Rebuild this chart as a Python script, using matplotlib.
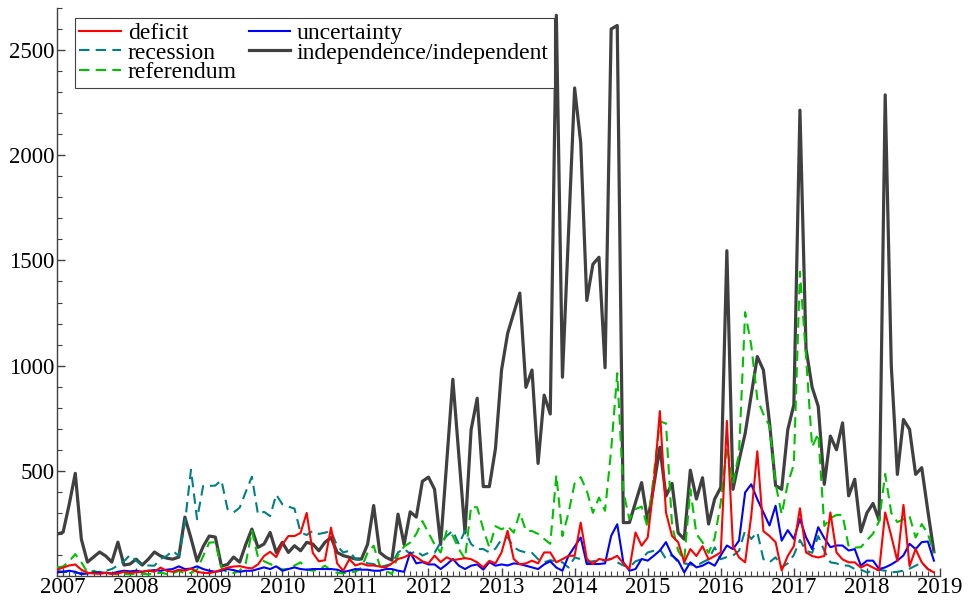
import numpy as np
import matplotlib.pyplot as plt
from matplotlib.ticker import MultipleLocator

# monthly series, first point Dec 2006, last Dec 2018
deficit = [30,
    40, 50, 55, 30, 15, 12, 10, 15, 10, 12, 20, 15,
    18, 20, 25, 20, 40, 25, 20, 30, 25, 35, 20, 15,
    14, 20, 30, 40, 45, 47, 40, 36, 55, 95, 115, 90,
    150, 190, 190, 205, 300, 110, 70, 75, 230, 60, 25, 80,
    50, 60, 50, 50, 45, 41, 60, 81, 89, 104, 90, 70,
    60, 97, 66, 89, 75, 80, 85, 80, 65, 41, 72, 60,
    112, 215, 81, 55, 60, 73, 60, 112, 112, 65, 80, 96,
    96, 254, 81, 57, 81, 75, 81, 96, 60, 33, 207, 144,
    183, 430, 784, 302, 190, 161, 65, 128, 95, 142, 79, 95,
    112, 737, 142, 88, 65, 285, 593, 213, 190, 161, 26, 95,
    142, 322, 112, 95, 88, 95, 302, 112, 79, 65, 65, 40,
    55, 40, 26, 302, 190, 71, 338, 47, 128, 65, 33, 17]

uncertainty = [17,
    20, 25, 20, 9, 12, 17, 17, 15, 12, 20, 25, 22,
    25, 20, 25, 28, 25, 30, 33, 46, 33, 35, 46, 33,
    25, 20, 25, 33, 28, 20, 25, 25, 33, 41, 33, 46,
    25, 33, 41, 33, 30, 33, 33, 33, 33, 30, 20, 25,
    33, 30, 30, 25, 25, 33, 33, 25, 20, 112, 60, 66,
    55, 55, 33, 55, 81, 49, 33, 49, 55, 30, 66, 49,
    55, 50, 60, 57, 49, 41, 33, 55, 70, 40, 25, 96,
    140, 183, 57, 57, 57, 60, 191, 246, 65, 25, 33, 81,
    73, 96, 121, 161, 98, 73, 17, 65, 41, 49, 65, 49,
    98, 145, 128, 168, 397, 436, 365, 303, 240, 334, 168, 218,
    176, 271, 184, 128, 232, 180, 137, 145, 145, 121, 128, 49,
    73, 73, 33, 41, 55, 73, 98, 153, 128, 161, 164, 73]

recession = [25,
    20, 18, 15, 13, 13, 15, 20, 25, 33, 50, 70, 100,
    72, 49, 50, 49, 81, 95, 120, 95, 250, 505, 270, 428,
    428, 430, 455, 318, 302, 325, 400, 472, 294, 305, 285, 387,
    341, 330, 320, 207, 195, 214, 200, 206, 214, 143, 112, 120,
    80, 75, 60, 57, 41, 50, 57, 112, 130, 104, 120, 97,
    110, 110, 160, 191, 215, 150, 215, 152, 128, 128, 112, 130,
    175, 184, 136, 120, 112, 110, 80, 65, 75, 70, 65, 40,
    88, 80, 65, 70, 75, 73, 81, 65, 50, 41, 70, 80,
    112, 120, 128, 81, 100, 65, 60, 55, 49, 65, 80, 136,
    80, 90, 97, 120, 216, 176, 208, 80, 65, 89, 41, 60,
    100, 171, 120, 110, 190, 120, 65, 60, 50, 49, 33, 30,
    17, 25, 30, 25, 17, 20, 25, 35, 49, 65, 33, 17]

referendum = [41,
    45, 70, 104, 65, 17, 25, 15, 20, 10, 8, 10, 8,
    12, 10, 8, 12, 15, 10, 12, 25, 12, 15, 30, 95,
    159, 160, 40, 15, 14, 25, 60, 215, 90, 70, 57, 45,
    30, 35, 50, 65, 30, 25, 30, 49, 25, 15, 12, 20,
    20, 40, 110, 144, 49, 25, 9, 100, 140, 159, 200, 261,
    206, 150, 112, 215, 191, 128, 81, 330, 326, 223, 135, 237,
    222, 237, 206, 301, 215, 214, 200, 176, 153, 480, 190, 300,
    440, 470, 405, 300, 373, 310, 600, 964, 400, 270, 318, 330,
    230, 480, 735, 725, 240, 120, 75, 412, 200, 160, 110, 180,
    350, 615, 440, 585, 1254, 1098, 842, 769, 714, 439, 293, 439,
    531, 1446, 1043, 613, 677, 238, 275, 290, 290, 140, 135, 137,
    170, 201, 260, 485, 300, 256, 270, 284, 183, 247, 201, 110]

independence = [199,
    208, 340, 488, 175, 66, 90, 114, 95, 66, 161, 52, 57,
    80, 52, 80, 114, 95, 85, 80, 90, 280, 180, 71, 140,
    190, 185, 47, 55, 90, 66, 150, 223, 136, 152, 207, 112,
    160, 112, 144, 120, 160, 152, 120, 160, 183, 112, 97, 89,
    81, 81, 150, 335, 112, 89, 75, 294, 150, 305, 280, 450,
    470, 412, 150, 540, 935, 570, 205, 695, 845, 425, 425, 605,
    979, 1153, 1250, 1345, 897, 979, 535, 860, 770, 2665, 945, 1630,
    2320, 2060, 1310, 1482, 1515, 990, 2600, 2617, 254, 254, 350, 444,
    260, 430, 612, 380, 440, 205, 175, 503, 366, 467, 247, 366,
    421, 1546, 412, 549, 677, 860, 1043, 979, 730, 430, 412, 695,
    814, 2214, 1080, 897, 807, 436, 665, 600, 728, 381, 460, 210,
    300, 345, 265, 2287, 1000, 483, 744, 697, 483, 515, 310, 115]

years = list(range(2007, 2020))

# time axis in fractional years
x = 2006 + 11 / 12 + np.arange(len(independence)) / 12

plt.rcParams['font.family'] = ['Liberation Serif', 'DejaVu Serif']

fig = plt.figure(figsize=(9.71, 6.0), dpi=100)
ax = fig.add_axes([57 / 971, 24 / 600, 883 / 971, 568 / 600])

ax.plot(x, independence, color="#404040", lw=2.3, label="independence/independent", zorder=2)
ax.plot(x, recession, color="#008080", lw=1.5, ls=(0, (5, 3)), label="recession", zorder=3)
ax.plot(x, referendum, color="#00c000", lw=1.5, ls=(0, (5, 3)), label="referendum", zorder=3)
ax.plot(x, uncertainty, color="#0000ff", lw=1.5, label="uncertainty", zorder=4)
ax.plot(x, deficit, color="#ff0000", lw=1.5, label="deficit", zorder=5)

ax.set_xlim(2006 + 11 / 12, 2019.0)
ax.set_ylim(0, 2700)

ax.set_xticks(years)
ax.set_xticklabels([str(y) for y in years])
ax.xaxis.set_minor_locator(MultipleLocator(1 / 12))
ax.set_yticks(range(500, 2501, 500))
ax.yaxis.set_minor_locator(MultipleLocator(100))

ax.tick_params(axis="both", which="major", direction="in", length=6, width=1,
               labelsize=16.5, color="#404040", pad=2)
ax.tick_params(axis="both", which="minor", direction="in", length=3.5, width=0.8,
               color="#404040")
ax.tick_params(axis="x", which="major", pad=1)

for s in ["top", "right"]:
    ax.spines[s].set_visible(False)
for s in ["left", "bottom"]:
    ax.spines[s].set_color("#404040")
    ax.spines[s].set_linewidth(1)

h, l = ax.get_legend_handles_labels()
order = [4, 1, 2, 3, 0]
leg = ax.legend([h[i] for i in order], [l[i] for i in order], ncol=2,
                loc="upper left", bbox_to_anchor=(0.02, 0.982), fontsize=17,
                frameon=True, fancybox=False, framealpha=1, edgecolor="#404040",
                handlelength=1.75, handletextpad=0.3, columnspacing=0.5,
                labelspacing=-0.1, borderpad=0.2, borderaxespad=0)
leg.get_frame().set_linewidth(0.8)

fig.savefig("out.png", dpi=100)
